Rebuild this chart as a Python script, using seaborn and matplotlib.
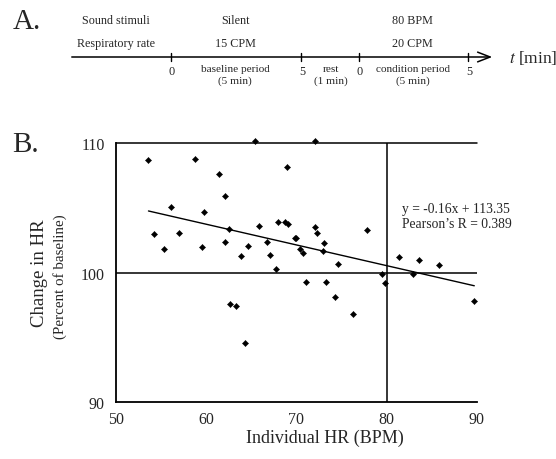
import numpy as np
import pandas as pd
import seaborn as sns
import matplotlib.pyplot as plt

# data (panel B)
hr = [53.6, 54.2, 55.3, 56.1, 57.0, 58.8, 59.7, 59.5, 61.4, 62.1, 62.5, 62.1,
      63.8, 64.6, 65.4, 65.9, 66.7, 67.1, 67.7, 68.0, 68.7, 69.1, 69.0, 69.8,
      70.0, 70.4, 70.7, 71.0, 72.1, 72.1, 72.3, 73.0, 72.9, 73.3, 74.6, 77.8,
      81.4, 83.6, 85.8, 79.5, 79.8, 82.9, 74.3, 76.3, 89.7, 62.6, 63.3, 64.3]
change = [108.7, 103.0, 101.8, 105.1, 103.1, 108.8, 104.7, 102.0, 107.6, 105.9, 103.4, 102.4,
          101.3, 102.1, 110.2, 103.6, 102.4, 101.4, 100.3, 103.9, 103.9, 103.8, 108.2, 102.7,
          102.7, 101.8, 101.5, 99.3, 110.2, 103.5, 103.1, 102.3, 101.7, 99.3, 100.7, 103.3,
          101.2, 101.0, 100.6, 99.9, 99.2, 99.9, 98.1, 96.8, 97.8, 97.6, 97.4, 94.6]
slope = -0.16
intercept = 113.35
pearson_r = 0.389
x_ticks = [50, 60, 70, 80, 90]
y_ticks = [90, 100, 110]

df = pd.DataFrame({"hr": hr, "change": change})

sns.set_style("white")
plt.rcParams["font.family"] = ["Liberation Serif", "DejaVu Serif"]
plt.rcParams["mathtext.fontset"] = "stix"

fig = plt.figure(figsize=(5.56, 4.6), dpi=100)

# ---------- panel A: protocol timeline (pixel coords) ----------
axA = fig.add_axes([0, 0, 1, 1], zorder=0)
axA.set_xlim(0, 556)
axA.set_ylim(460, 0)
axA.axis("off")

axA.text(13, 22, "A.", fontsize=21, va="center", ha="left")
rows = ["Sound stimuli", "Respiratory rate"]
row_y = [21, 44]
silent_col = ["Silent", "15 CPM"]
cond_col = ["80 BPM", "20 CPM"]
for lab, s, c, yy in zip(rows, silent_col, cond_col, row_y):
    axA.text(116, yy, lab, fontsize=8.7, ha="center", va="center")
    axA.text(235, yy, s, fontsize=8.7, ha="center", va="center")
    axA.text(412, yy, c, fontsize=8.7, ha="center", va="center")

axA.annotate("", xy=(495, 58), xytext=(69, 58),
             arrowprops=dict(arrowstyle="->,head_length=0.9,head_width=0.35", lw=1.1, color="black"))
tick_x = [171, 301, 359, 468]
tick_lab = ["0", "5", "0", "5"]
for tx, tl in zip(tick_x, tick_lab):
    axA.plot([tx, tx], [54, 62], color="black", lw=1)
    axA.text(tx + 1, 72, tl, fontsize=8.8, ha="center", va="center")
periods = ["baseline period\n(5 min)", "rest\n(1 min)", "condition period\n(5 min)"]
period_x = [235, 331, 413]
for px, pl in zip(period_x, periods):
    axA.text(px, 75.5, pl, fontsize=8.1, ha="center", va="center", linespacing=1.3)
axA.text(509, 58, r"$t$ [min]", fontsize=12.5, ha="left", va="center")
axA.text(12, 145, "B.", fontsize=21, va="center", ha="left")

# ---------- panel B: scatter ----------
ax = fig.add_axes([0.2086, 0.1233, 0.6493, 0.563], zorder=1)
ax.patch.set_alpha(0)
sns.scatterplot(data=df, x="hr", y="change", marker="D", s=10, color="black",
                edgecolor="black", linewidth=0.3, ax=ax, zorder=3, clip_on=False)

fit_x = [min(hr), max(hr)]
fit_y = [slope * v + intercept for v in fit_x]
sns.lineplot(x=fit_x, y=fit_y, color="black", lw=1.0, ax=ax)

ax.axhline(100, color="black", lw=1.1)
ax.axhline(110, color="black", lw=1.1, clip_on=False)
ax.axvline(80, color="black", lw=1.1)

ax.set_xlim(50, 90)
ax.set_ylim(90, 110)
ax.set_xticks(x_ticks)
ax.set_yticks(y_ticks)
ax.tick_params(axis="x", direction="inout", length=7, width=1.1, labelsize=11.5, pad=3)
ax.tick_params(axis="y", direction="out", length=5, width=1.1, labelsize=11.5, pad=3)
for side in ["top", "right"]:
    ax.spines[side].set_visible(False)
for side in ["left", "bottom"]:
    ax.spines[side].set_color("black")
    ax.spines[side].set_linewidth(1.3)

ax.set_xlabel("")
ax.set_ylabel("")
fig.text(325 / 556, 1 - 438 / 460, "Individual HR (BPM)", fontsize=13, ha="center", va="center")
fig.text(39 / 556, 1 - 273 / 460, "Change in HR", fontsize=13.5, rotation=90, ha="center", va="center")
fig.text(60 / 556, 1 - 277 / 460, "(Percent of baseline)", fontsize=10.8, rotation=90, ha="center", va="center")

ax.text(0.791, 0.775, f"y = {slope:.2f}x + {intercept:.2f}\nPearson\u2019s R = {pearson_r:.3f}",
        transform=ax.transAxes, fontsize=9.8, ha="left", va="top", linespacing=1.2)

fig.savefig("out.png", dpi=100)
